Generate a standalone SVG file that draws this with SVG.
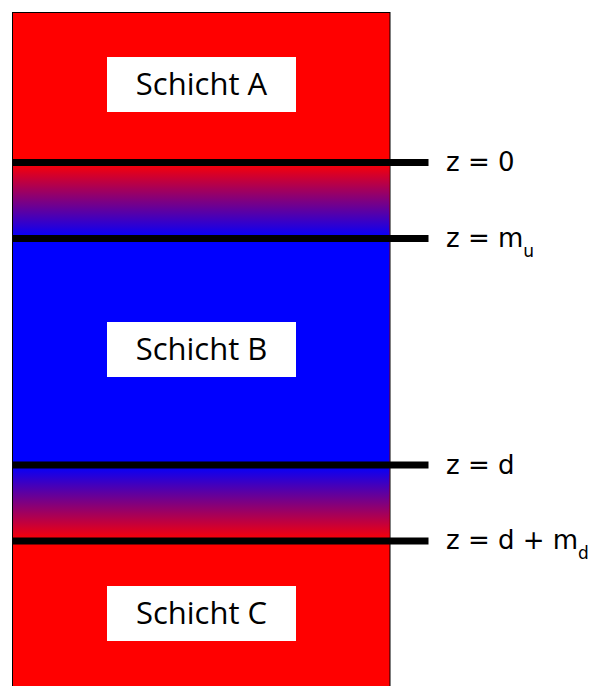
<svg xmlns="http://www.w3.org/2000/svg" width="591" height="686" viewBox="0 0 591 686">
<defs>
<linearGradient id="rb" x1="0" y1="0" x2="0" y2="1"><stop offset="0" stop-color="#ff0000"/><stop offset="1" stop-color="#0000ff"/></linearGradient>
<linearGradient id="br" x1="0" y1="0" x2="0" y2="1"><stop offset="0" stop-color="#0000ff"/><stop offset="1" stop-color="#ff0000"/></linearGradient>
</defs>
<style>
.box{fill:#ffffff}
.lbl{font-family:"Open Sans",sans-serif;font-size:31px;fill:#000;text-anchor:middle}
.z{font-family:"DejaVu Sans",sans-serif;font-size:26px;fill:#000}
.sub{font-family:"DejaVu Sans",sans-serif;font-size:17px;fill:#000}
.ln{stroke:#000;stroke-width:7;fill:none}
</style>
<g id="layers">
<rect x="12.5" y="12.5" width="377.5" height="700" fill="#ff0000" stroke="#000" stroke-width="1"/>
<rect x="13" y="162.5" width="376.5" height="76" fill="url(#rb)"/>
<rect x="13" y="238.5" width="376.5" height="226.5" fill="#0000ff"/>
<rect x="13" y="465" width="376.5" height="76" fill="url(#br)"/>
</g>
<g id="schichtA"><rect class="box" x="107" y="57" width="189" height="55"/><text class="lbl" x="201.5" y="94.5">Schicht A</text></g>
<g id="schichtB"><rect class="box" x="107" y="322" width="189" height="55"/><text class="lbl" x="201.5" y="359.5">Schicht B</text></g>
<g id="schichtC"><rect class="box" x="107" y="586" width="189" height="55"/><text class="lbl" x="201.5" y="623.5">Schicht C</text></g>
<g id="connectors">
<line class="ln" x1="12" y1="162.5" x2="428.5" y2="162.5"/>
<line class="ln" x1="12" y1="238.5" x2="428.5" y2="238.5"/>
<line class="ln" x1="12" y1="465" x2="428.5" y2="465"/>
<line class="ln" x1="12" y1="541" x2="428.5" y2="541"/>
</g>
<g id="labels">
<text class="z" x="446" y="171">z = 0</text>
<text class="z" x="446" y="247">z = m<tspan class="sub" dy="10">u</tspan></text>
<text class="z" x="446" y="473.5">z = d</text>
<text class="z" x="446" y="549">z = d + m<tspan class="sub" dy="10">d</tspan></text>
</g>
</svg>
